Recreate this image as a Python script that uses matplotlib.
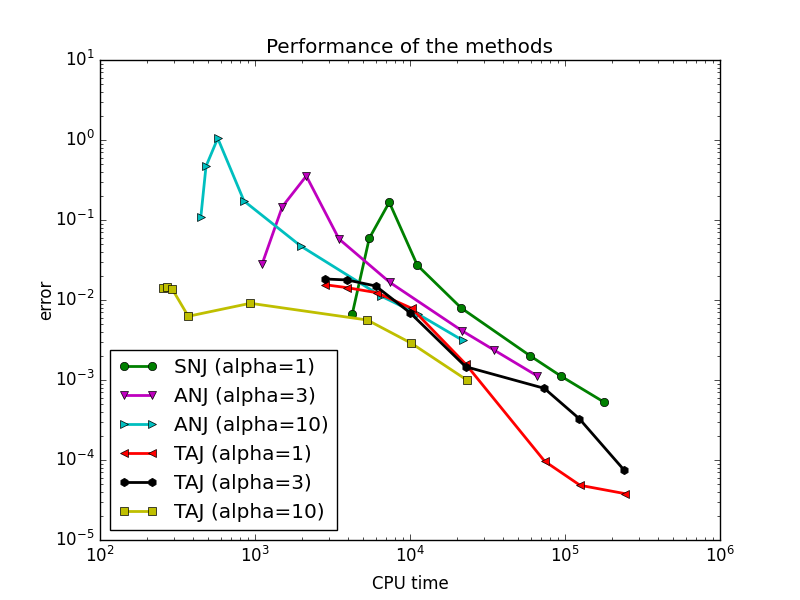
import matplotlib
matplotlib.use("Agg")
import matplotlib.pyplot as plt

plt.style.use('classic')

snj1_x = [4245, 5460, 7350, 11150, 21400, 59700, 94700, 179400]
snj1_y = [0.00674, 0.059, 0.1665, 0.0272, 0.00794, 0.0020, 0.00111, 0.000526]

anj3_x = [1114, 1500, 2143, 3483, 7430, 21640, 34830, 65960]
anj3_y = [0.0285, 0.1467, 0.355, 0.0579, 0.01655, 0.00413, 0.00237, 0.00113]

anj10_x = [447, 483, 575, 849, 1972, 6500, 11310, 21880]
anj10_y = [0.108, 0.469, 1.05, 0.173, 0.0473, 0.0112, 0.00663, 0.00313]

taj1_x = [2830, 3940, 6100, 10260, 22880, 73960, 125000, 245000]
taj1_y = [0.01553, 0.01425, 0.01234, 0.00787, 0.00158, 9.64e-5, 4.83e-5, 3.79e-5]

taj3_x = [2830, 3940, 6010, 10000, 22880, 73500, 123700, 241400]
taj3_y = [0.0183, 0.0178, 0.01496, 0.00694, 0.001466, 0.000787, 0.000328, 7.43e-5]

taj10_x = [256, 272, 293, 371, 933, 5305, 10200, 23430]
taj10_y = [0.0140, 0.01466, 0.0136, 0.00626, 0.0091, 0.00562, 0.00288, 0.00099]

labels = ['SNJ (alpha=1)', 'ANJ (alpha=3)', 'ANJ (alpha=10)',
          'TAJ (alpha=1)', 'TAJ (alpha=3)', 'TAJ (alpha=10)']

fig = plt.figure(figsize=(8, 6), dpi=100)
ax = fig.add_subplot(111)

series = [(snj1_x, snj1_y, 'g', 'o'),
          (anj3_x, anj3_y, 'm', 'v'),
          (anj10_x, anj10_y, 'c', '>'),
          (taj1_x, taj1_y, 'r', '<'),
          (taj3_x, taj3_y, 'k', 'h'),
          (taj10_x, taj10_y, 'y', 's')]

for (xs, ys, c, m), lab in zip(series, labels):
    ax.plot(xs, ys, color=c, marker=m, linewidth=2, label=lab)

ax.set_xscale('log')
ax.set_yscale('log')
ax.set_xlim(1e2, 1e6)
ax.set_ylim(1e-5, 1e1)
ax.set_xlabel('CPU time', labelpad=6.5)
ax.set_ylabel('error', labelpad=0)
ax.set_title('Performance of the methods')
ax.legend(loc='lower left')

fig.savefig('out.png', dpi=100, facecolor='white')
